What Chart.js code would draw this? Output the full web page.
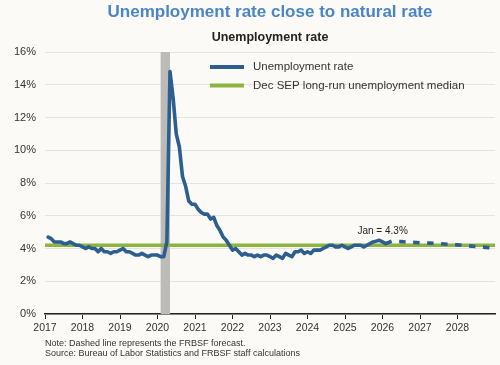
<!DOCTYPE html>
<html><head><meta charset="utf-8">
<script src="https://cdn.jsdelivr.net/npm/chart.js@4.4.1/dist/chart.umd.min.js"></script>
<style>html,body{margin:0;padding:0;background:#fbfaf6;}#wrap{width:500px;height:365px;}</style>
</head><body><div id="wrap"><canvas id="c" width="500" height="365"></canvas></div>
<script>
// ---- data ----
const chartTitle = 'Unemployment rate close to natural rate';
const chartSubtitle = 'Unemployment rate';
const seriesNames = ['Unemployment rate', 'Dec SEP long-run unemployment median'];
const firstMonth = [2017, 1]; // monthly observations, plotted at month end
const unemploymentRate = [
  4.7,4.6,4.4,4.4,4.4,4.3,4.3,4.4,4.3,4.2,4.2,4.1,   // 2017
  4.0,4.1,4.0,4.0,3.8,4.0,3.8,3.8,3.7,3.8,3.8,3.9,   // 2018
  4.0,3.8,3.8,3.7,3.6,3.6,3.7,3.6,3.5,3.6,3.6,3.6,   // 2019
  3.5,3.5,4.4,14.8,13.2,11.0,10.2,8.4,7.8,6.9,6.7,6.7, // 2020
  6.4,6.2,6.1,6.1,5.8,5.9,5.4,5.1,4.7,4.5,4.2,3.9,   // 2021
  4.0,3.8,3.6,3.7,3.6,3.6,3.5,3.6,3.5,3.6,3.6,3.5,   // 2022
  3.4,3.6,3.5,3.4,3.7,3.6,3.5,3.8,3.8,3.9,3.7,3.8,   // 2023
  3.7,3.9,3.9,3.9,4.0,4.1,4.2,4.2,4.1,4.1,4.2,4.1,   // 2024
  4.0,4.1,4.2,4.2,4.2,4.1,4.2,4.3,4.4,4.45,4.5,4.4,  // 2025
  4.3                                                // 2026 Jan
];
const forecastMonths = ['2026-01','2026-03','2026-06','2026-09','2026-12','2027-03','2027-06','2027-09','2027-12','2028-03','2028-06','2028-09','2028-12'];
const forecastRate   = [4.3, 4.45, 4.42, 4.38, 4.35, 4.33, 4.30, 4.26, 4.22, 4.17, 4.12, 4.07, 4.02];
const longRunMedian = 4.2;
const recessionMonths = ['2020-02', '2020-04'];
const xYears = [2017,2018,2019,2020,2021,2022,2023,2024,2025,2026,2027,2028];
const xRange = [2017, 2029];
const yRange = [0, 16];
const yStep = 2;
const annotationText = 'Jan = 4.3%';
const footnotes = ['Note: Dashed line represents the FRBSF forecast.', 'Source: Bureau of Labor Statistics and FRBSF staff calculations'];

// ---- helpers ----
const monthEnd = (y, m) => y + m / 12;
const parseYM = s => s.split('-').map(Number);
const actualPts = unemploymentRate.map((v, i) => {
  const idx = (firstMonth[1] - 1) + i;
  return { x: monthEnd(firstMonth[0] + Math.floor(idx / 12), (idx % 12) + 1), y: v };
});
const forecastPts = forecastMonths.map((s, i) => { const [y, m] = parseYM(s); return { x: monthEnd(y, m), y: forecastRate[i] }; });
const medianPts = [{ x: xRange[0], y: longRunMedian }, { x: xRange[1], y: longRunMedian }];

const BLUE = '#2c5f8f', GREEN = '#8cb43f', TXT = '#333333';
const FONT = "'Liberation Sans', Arial, Helvetica, sans-serif";

const decor = {
  id: 'decor',
  beforeDraw(chart) {
    const { ctx } = chart;
    ctx.save(); ctx.fillStyle = '#fbfaf6'; ctx.fillRect(0, 0, chart.width, chart.height); ctx.restore();
  },
  beforeDatasetsDraw(chart) {
    const { ctx, chartArea: a, scales: { x } } = chart;
    const [sy, sm] = parseYM(recessionMonths[0]);
    const [ey, em] = parseYM(recessionMonths[1]);
    const x0 = x.getPixelForValue(sy + (sm - 1) / 12);
    const x1 = x.getPixelForValue(monthEnd(ey, em));
    ctx.save(); ctx.fillStyle = '#bdbbb7'; ctx.fillRect(x0, a.top, x1 - x0, a.bottom - a.top); ctx.restore();
  },
  afterDraw(chart) {
    const { ctx, chartArea: a, scales: { x, y } } = chart;
    const cx = (a.left + a.right) / 2;
    ctx.save();
    ctx.textAlign = 'center'; ctx.textBaseline = 'middle';
    ctx.fillStyle = '#4a85c6'; ctx.font = 'bold 17px ' + FONT;
    ctx.fillText(chartTitle, cx, 12);
    ctx.fillStyle = '#222'; ctx.font = 'bold 12.5px ' + FONT;
    ctx.fillText(chartSubtitle, cx, 38);
    // legend
    const ds = chart.data.datasets;
    const legendItems = [ds[0], ds[2]];
    ctx.textAlign = 'left'; ctx.font = '11.5px ' + FONT;
    legendItems.forEach((d, i) => {
      const ly = 67 + i * 18.5;
      ctx.strokeStyle = d.borderColor; ctx.lineWidth = 4;
      ctx.beginPath(); ctx.moveTo(210, ly); ctx.lineTo(244, ly); ctx.stroke();
      ctx.fillStyle = TXT; ctx.fillText(d.label, 253, ly);
    });
    // annotation
    const last = actualPts[actualPts.length - 1];
    ctx.textAlign = 'center'; ctx.font = '10px ' + FONT; ctx.fillStyle = '#222';
    ctx.fillText(annotationText, x.getPixelForValue(last.x) - 3, y.getPixelForValue(last.y) - 12);
    // footnotes
    ctx.textAlign = 'left'; ctx.font = '9px ' + FONT; ctx.fillStyle = TXT;
    footnotes.forEach((t, i) => ctx.fillText(t, 45, 344 + i * 9.5));
    ctx.restore();
  }
};

new Chart(document.getElementById('c'), {
  type: 'line',
  data: {
    datasets: [
      { label: seriesNames[0], data: actualPts, borderColor: BLUE, borderWidth: 3.6, pointRadius: 0, tension: 0, borderJoinStyle: 'round', borderCapStyle: 'round' },
      { label: seriesNames[0] + ' forecast', data: forecastPts, borderColor: BLUE, borderWidth: 3.6, borderDash: [6.5, 7.5], pointRadius: 0, tension: 0 },
      { label: seriesNames[1], data: medianPts, borderColor: GREEN, borderWidth: 3.6, pointRadius: 0 }
    ]
  },
  options: {
    responsive: false, animation: false, devicePixelRatio: 1,
    layout: { padding: { top: 52, right: 5, left: 0, bottom: 0 } },
    plugins: { legend: { display: false }, tooltip: { enabled: false }, title: { display: false } },
    scales: {
      x: {
        type: 'linear', min: xRange[0], max: xRange[1],
        afterBuildTicks: s => { s.ticks = xYears.map(v => ({ value: v })); },
        afterFit: s => { s.height = 51; },
        ticks: { callback: v => String(v), color: TXT, font: { family: FONT, size: 10.5 }, padding: 3, maxRotation: 0, autoSkip: false },
        grid: { drawOnChartArea: false, drawTicks: true, tickLength: 5, color: '#222', lineWidth: 1 },
        border: { color: '#222', width: 1.5 }
      },
      y: {
        min: yRange[0], max: yRange[1],
        afterFit: s => { s.width = 45; },
        ticks: { stepSize: yStep, callback: v => v + '%', color: TXT, font: { family: FONT, size: 11 }, padding: 9 },
        grid: { color: '#e4e3df', lineWidth: 1, drawTicks: false },
        border: { display: false }
      }
    }
  },
  plugins: [decor]
});
</script></body></html>
